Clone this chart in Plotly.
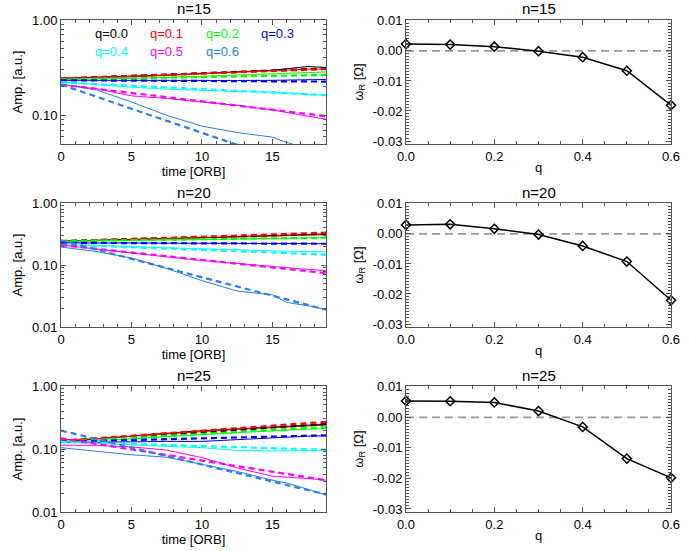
import plotly.graph_objects as go
import math

W, H = 689, 551
FONT = "Liberation Sans, Arial, Helvetica, sans-serif"

# ---------------- data ----------------
q_labels = ["q=0.0", "q=0.1", "q=0.2", "q=0.3", "q=0.4", "q=0.5", "q=0.6"]
q_colors = ["#000000", "#ff0000", "#00ff00", "#0000ff", "#00ffff", "#ff00ff", "#2a80e8"]

t_sim = [0, 2.5, 5, 7.5, 10, 12.5, 15, 16, 17.5, 18.8]
t_fit = [0, 18.8]

amp_n15 = [
    [0.245, 0.250, 0.257, 0.265, 0.275, 0.285, 0.297, 0.308, 0.325, 0.318],
    [0.243, 0.247, 0.253, 0.262, 0.272, 0.280, 0.290, 0.296, 0.305, 0.305],
    [0.238, 0.240, 0.244, 0.250, 0.258, 0.265, 0.272, 0.276, 0.282, 0.285],
    [0.233, 0.232, 0.232, 0.234, 0.233, 0.232, 0.233, 0.234, 0.236, 0.238],
    [0.224, 0.210, 0.197, 0.188, 0.182, 0.178, 0.175, 0.172, 0.167, 0.162],
    [0.210, 0.190, 0.160, 0.150, 0.138, 0.127, 0.114, 0.108, 0.098, 0.091],
    [0.212, 0.185, 0.138, 0.100, 0.077, 0.066, 0.059, 0.052, 0.045, 0.041],
]
fit_n15 = [
    [0.243, 0.310], [0.243, 0.305], [0.238, 0.265], [0.233, 0.226],
    [0.222, 0.163], [0.210, 0.098], [0.210, 0.0235],
]

amp_n20 = [
    [0.243, 0.250, 0.258, 0.267, 0.277, 0.288, 0.298, 0.303, 0.312, 0.318],
    [0.240, 0.246, 0.254, 0.262, 0.272, 0.282, 0.292, 0.296, 0.303, 0.308],
    [0.240, 0.243, 0.247, 0.252, 0.258, 0.263, 0.268, 0.270, 0.273, 0.276],
    [0.228, 0.226, 0.225, 0.224, 0.223, 0.222, 0.222, 0.222, 0.221, 0.221],
    [0.214, 0.205, 0.196, 0.188, 0.180, 0.174, 0.169, 0.167, 0.165, 0.163],
    [0.210, 0.180, 0.155, 0.135, 0.118, 0.105, 0.095, 0.091, 0.085, 0.081],
    [0.195, 0.165, 0.130, 0.088, 0.056, 0.038, 0.033, 0.025, 0.022, 0.0192],
]
fit_n20 = [
    [0.243, 0.320], [0.240, 0.333], [0.243, 0.276], [0.228, 0.220],
    [0.214, 0.147], [0.210, 0.074], [0.250, 0.019],
]

amp_n25 = [
    [0.130, 0.145, 0.160, 0.178, 0.195, 0.210, 0.225, 0.232, 0.240, 0.247],
    [0.140, 0.145, 0.160, 0.175, 0.190, 0.205, 0.218, 0.225, 0.235, 0.240],
    [0.130, 0.135, 0.145, 0.158, 0.170, 0.182, 0.195, 0.200, 0.206, 0.210],
    [0.126, 0.128, 0.132, 0.132, 0.132, 0.140, 0.152, 0.156, 0.160, 0.162],
    [0.130, 0.122, 0.115, 0.110, 0.105, 0.095, 0.093, 0.093, 0.094, 0.095],
    [0.115, 0.114, 0.108, 0.096, 0.073, 0.050, 0.037, 0.036, 0.034, 0.032],
    [0.105, 0.092, 0.081, 0.074, 0.057, 0.044, 0.032, 0.029, 0.023, 0.0186],
]
fit_n25 = [
    [0.130, 0.250], [0.135, 0.270], [0.130, 0.223], [0.130, 0.165],
    [0.130, 0.097], [0.148, 0.032], [0.196, 0.019],
]

q_vals = [0.0, 0.1, 0.2, 0.3, 0.4, 0.5, 0.6]
omega_n15 = [0.0023, 0.0021, 0.0014, -0.0001, -0.0021, -0.0066, -0.0181]
omega_n20 = [0.0030, 0.0032, 0.0017, -0.0002, -0.0040, -0.0092, -0.0221]
omega_n25 = [0.0054, 0.0053, 0.0049, 0.0021, -0.0031, -0.0135, -0.0198]

panel_titles = ["n=15", "n=20", "n=25"]
amp_sets = [amp_n15, amp_n20, amp_n25]
fit_sets = [fit_n15, fit_n20, fit_n25]
omega_sets = [omega_n15, omega_n20, omega_n25]
amp_ymin = [0.05, 0.01, 0.01]

# ---------------- layout geometry (pixels) ----------------
left_x = (61, 326)
right_x = (406, 671)
rows_y = [(20, 144), (203, 327), (386, 512)]


def fx(p):
    return p / W


def fy(p):
    return 1 - p / H


fig = go.Figure()
layout = dict(
    width=W, height=H, margin=dict(l=0, r=0, t=0, b=0, autoexpand=False),
    paper_bgcolor="white", plot_bgcolor="white",
    showlegend=False, font=dict(family=FONT, size=13, color="black"),
)
annotations = []
axcol = "#555555"
TICKF = dict(family=FONT, size=13, color="black")
TITF = dict(family=FONT, size=13, color="black")

for r in range(3):
    n_l = 2 * r + 1
    n_r = 2 * r + 2
    xl = "x" if n_l == 1 else "x%d" % n_l
    yl = "y" if n_l == 1 else "y%d" % n_l
    xr = "x%d" % n_r
    yr = "y%d" % n_r
    y0, y1 = rows_y[r]

    for i in range(7):
        fig.add_trace(go.Scatter(
            x=t_sim, y=amp_sets[r][i], mode="lines",
            line=dict(color=q_colors[i], width=1), xaxis=xl, yaxis=yl))
    for i in range(7):
        fig.add_trace(go.Scatter(
            x=t_fit, y=fit_sets[r][i], mode="lines",
            line=dict(color=q_colors[i], width=2.2, dash="6px,4px"), xaxis=xl, yaxis=yl))

    fig.add_trace(go.Scatter(
        x=[0, 0.6], y=[0, 0], mode="lines",
        line=dict(color="#999999", width=1.6, dash="8px,5px"), xaxis=xr, yaxis=yr))
    fig.add_trace(go.Scatter(
        x=q_vals, y=omega_sets[r], mode="lines+markers",
        line=dict(color="black", width=1.5),
        marker=dict(symbol="diamond-open", size=7, color="black", line=dict(width=1.5)),
        cliponaxis=False, xaxis=xr, yaxis=yr))

    common = dict(showline=True, linecolor=axcol, linewidth=1, mirror="allticks",
                  ticks="inside", tickcolor=axcol, ticklen=5, showgrid=False,
                  zeroline=False, automargin=False, tickfont=TICKF)

    layout["xaxis" if n_l == 1 else "xaxis%d" % n_l] = dict(
        domain=[fx(left_x[0]), fx(left_x[1])], anchor=yl, range=[0, 18.8],
        tickvals=[0, 5, 10, 15], ticktext=["0", "5", "10", "15"],
        minor=dict(ticks="inside", tickcolor=axcol, ticklen=3, dtick=1, tick0=0, showgrid=False),
        title=dict(text="time [ORB]", font=TITF, standoff=0),
        **common)
    ymin = amp_ymin[r]
    if ymin < 0.02:
        tv = [0.01, 0.1, 1.0]
        tt = ["0.01", "0.10", "1.00"]
        mv = [m * 10 ** e for e in (-2, -1) for m in range(2, 10)]
    else:
        tv = [0.1, 1.0]
        tt = ["0.10", "1.00"]
        mv = [m * 10 ** e for e in (-2, -1) for m in range(2, 10) if m * 10 ** e >= 0.05]
    layout["yaxis" if n_l == 1 else "yaxis%d" % n_l] = dict(
        domain=[fy(y1), fy(y0)], anchor=xl, type="log",
        range=[math.log10(ymin), 0],
        tickvals=tv, ticktext=tt,
        minor=dict(ticks="inside", tickcolor=axcol, ticklen=3, tickvals=mv, showgrid=False),
        title=dict(text="Amp. [a.u.]", font=TITF, standoff=6),
        **common)
    layout["xaxis%d" % n_r] = dict(
        domain=[fx(right_x[0]), fx(right_x[1])], anchor=yr, range=[0, 0.6],
        tickvals=[0, 0.2, 0.4, 0.6], ticktext=["0.0", "0.2", "0.4", "0.6"],
        minor=dict(ticks="inside", tickcolor=axcol, ticklen=3, dtick=0.05, tick0=0, showgrid=False),
        title=dict(text="q", font=TITF, standoff=0),
        **common)
    layout["yaxis%d" % n_r] = dict(
        domain=[fy(y1), fy(y0)], anchor=xr, range=[-0.031, 0.0103],
        tickvals=[0.01, 0, -0.01, -0.02, -0.03],
        ticktext=["0.01", "0.00", "-0.01", "-0.02", "-0.03"],
        minor=dict(ticks="inside", tickcolor=axcol, ticklen=3, dtick=0.001, tick0=0, showgrid=False),
        title=dict(text="ω<sub>R</sub> [Ω]", font=TITF, standoff=6),
        **common)

    for xs in (left_x, right_x):
        annotations.append(dict(
            text=panel_titles[r], x=fx((xs[0] + xs[1]) / 2), y=fy(y0 - 11),
            xref="paper", yref="paper", showarrow=False,
            font=dict(family=FONT, size=15, color="black"), xanchor="center", yanchor="middle"))

leg_pos = [(111, 34), (166, 34), (222, 34), (277, 34), (111, 51), (166, 51), (222, 51)]
for i in range(7):
    px, py = leg_pos[i]
    annotations.append(dict(
        text=q_labels[i], x=fx(px), y=fy(py), xref="paper", yref="paper",
        showarrow=False, font=dict(family=FONT, size=13, color=q_colors[i]),
        xanchor="center", yanchor="middle"))

layout["annotations"] = annotations
fig.update_layout(**layout)
fig.write_html("out.html", config={"displayModeBar": False},
               post_script="document.body.style.margin='0';document.body.style.padding='0';")
